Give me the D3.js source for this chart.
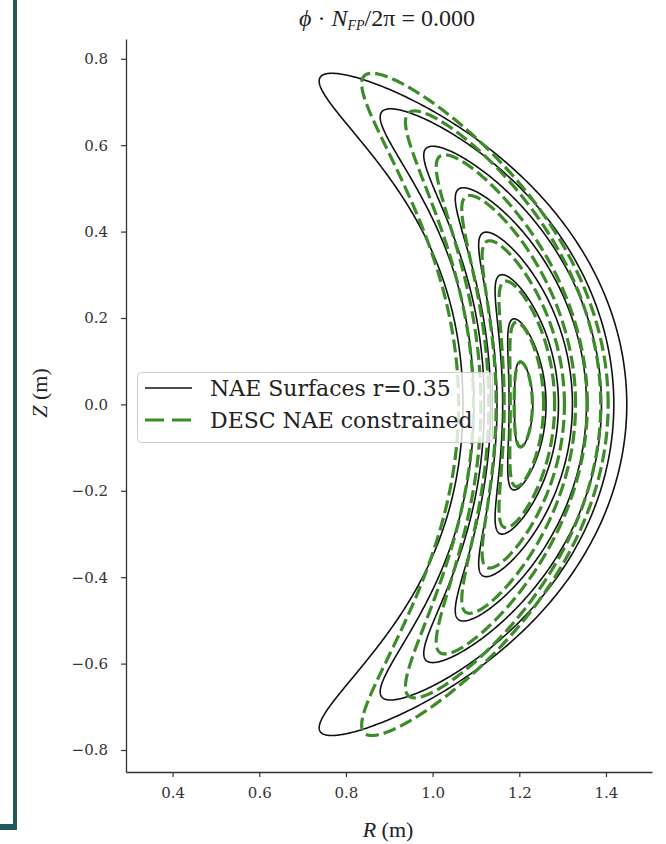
<!DOCTYPE html>
<html>
<head>
<meta charset="utf-8">
<script src="https://cdn.jsdelivr.net/npm/d3@7"></script>
<style>
  body { margin: 0; background: #ffffff; }
  svg { display: block; }
</style>
</head>
<body>
<svg id="chart" width="666" height="844"></svg>
<script>
// Poloidal cross-section at phi = 0: nested flux surfaces, outermost first.
// Each surface is stored as its Fourier modes:
//   R(theta) = R0 + R1 cos(theta) + R2 cos(2 theta) + R3 cos(3 theta) + R4 cos(4 theta)
//   Z(theta) = Z1 sin(theta) + Z2 sin(2 theta)
const surfaceRho = [1, 0.875, 0.75, 0.625, 0.5, 0.375, 0.25, 0.125];

// Near-axis expansion surfaces (r = 0.35 at the boundary)
const naeR0 = [1.016, 1.080, 1.126, 1.156, 1.178, 1.192, 1.203, 1.206];
const naeR1 = [0.169, 0.148, 0.1268, 0.1056, 0.0845, 0.0634, 0.0423, 0.0211];
const naeR2 = [0.258, 0.1855, 0.1331, 0.0908, 0.0585, 0.0343, 0.0161, 0.0040];
const naeR3 = [0.020, 0.0134, 0.0084, 0.0049, 0.0025, 0.0010, 0.0003, 0.0000];
const naeR4 = [-0.015, -0.0088, -0.0047, -0.0023, -0.0009, -0.0003, 0.0000, 0.0000];
const naeZ1 = [0.760, 0.680, 0.595, 0.500, 0.398, 0.300, 0.198, 0.100];
const naeZ2 = [0.050, 0.0383, 0.0281, 0.0195, 0.0125, 0.0070, 0.0031, 0.0008];

// DESC equilibrium surfaces with the NAE constraint
const descR0 = [1.0372, 1.093, 1.126, 1.154, 1.176, 1.195, 1.205, 1.206];
const descR1 = [0.1525, 0.1334, 0.1144, 0.0953, 0.0763, 0.0572, 0.0381, 0.0210];
const descR2 = [0.1953, 0.1481, 0.1082, 0.0756, 0.0493, 0.0283, 0.0126, 0.0031];
const descR3 = [0.020, 0.0134, 0.0084, 0.0049, 0.0025, 0.0010, 0.0003, 0.0000];
const descR4 = [0, 0, 0, 0, 0, 0, 0, 0];
const descZ1 = [0.760, 0.675, 0.575, 0.482, 0.378, 0.285, 0.190, 0.098];
const descZ2 = [0.050, 0.0383, 0.0280, 0.0195, 0.0125, 0.0070, 0.0031, 0.0008];

const xTicks = [0.4, 0.6, 0.8, 1.0, 1.2, 1.4];
const yTicks = [0.8, 0.6, 0.4, 0.2, 0.0, -0.2, -0.4, -0.6, -0.8];

const titleValue = "0.000";
const legendLabels = ["NAE Surfaces r=0.35", "DESC NAE constrained"];

const COLOR_NAE = "#111111";
const COLOR_DESC = "#3c8c2a";
const SERIF = "'DejaVu Serif', 'Liberation Serif', serif";
const MATH = "'Liberation Serif', serif";

const svg = d3.select("#chart");

// Frame accent on the left and bottom edge
svg.append("rect").attr("x", 13).attr("y", 0).attr("width", 4).attr("height", 830).attr("fill", "#1f5b5b");
svg.append("rect").attr("x", 0).attr("y", 824).attr("width", 17).attr("height", 6).attr("fill", "#1f5b5b");

// Axes box (equal aspect)
const plot = { left: 126, right: 652, top: 39, bottom: 772 };
const x = d3.scaleLinear().domain([0.2925, 1.5062]).range([plot.left, plot.right]);
const y = d3.scaleLinear().domain([-0.8509, 0.8458]).range([plot.bottom, plot.top]);

const fmt = d => d3.format(".1f")(d).replace("-", "\u2212");

// X axis
const xAxis = d3.axisBottom(x).tickValues(xTicks).tickFormat(fmt).tickSize(5).tickSizeOuter(0);
const gx = svg.append("g").attr("transform", `translate(0,${plot.bottom})`).call(xAxis);
// Y axis
const yAxis = d3.axisLeft(y).tickValues(yTicks).tickFormat(fmt).tickSize(5).tickSizeOuter(0);
const gy = svg.append("g").attr("transform", `translate(${plot.left},0)`).call(yAxis);

[gx, gy].forEach(g => {
  g.select(".domain").attr("stroke", "#333").attr("stroke-width", 1.3);
  g.selectAll(".tick line").attr("stroke", "#333").attr("stroke-width", 1.2);
  g.selectAll(".tick text").attr("fill", "#333").style("font-family", SERIF).style("font-size", "15px");
});
gx.selectAll(".tick text").attr("y", 12).attr("dy", "0.95em");
gy.selectAll(".tick text").attr("x", -18);

// Surface curves
const thetas = d3.range(0, 720).map(i => i * Math.PI / 360);
const line = d3.line().x(p => x(p[0])).y(p => y(p[1])).curve(d3.curveLinearClosed);

function surfacePoints(r0, r1, r2, r3, r4, z1, z2) {
  return thetas.map(t => [
    r0 + r1 * Math.cos(t) + r2 * Math.cos(2 * t) + r3 * Math.cos(3 * t) + r4 * Math.cos(4 * t),
    z1 * Math.sin(t) + z2 * Math.sin(2 * t)
  ]);
}

const gCurves = svg.append("g");
surfaceRho.forEach((rho, i) => {
  gCurves.append("path")
    .attr("d", line(surfacePoints(naeR0[i], naeR1[i], naeR2[i], naeR3[i], naeR4[i], naeZ1[i], naeZ2[i])))
    .attr("fill", "none").attr("stroke", COLOR_NAE).attr("stroke-width", 1.6);
});
surfaceRho.forEach((rho, i) => {
  gCurves.append("path")
    .attr("d", line(surfacePoints(descR0[i], descR1[i], descR2[i], descR3[i], descR4[i], descZ1[i], descZ2[i])))
    .attr("fill", "none").attr("stroke", COLOR_DESC).attr("stroke-width", 3.2)
    .attr("stroke-dasharray", "13,5");
});

// Title
const title = svg.append("text").attr("x", 387).attr("y", 26).attr("text-anchor", "middle")
  .style("font-family", MATH).style("font-size", "24px").attr("fill", "#222");
title.append("tspan").style("font-style", "italic").text("\u03D5");
title.append("tspan").text(" \u00B7 ");
title.append("tspan").style("font-style", "italic").text("N");
title.append("tspan").style("font-style", "italic").style("font-size", "14px").attr("dy", 4).text("FP");
title.append("tspan").attr("dy", -4).text("/2\u03C0 = " + titleValue);

// Axis labels
const xl = svg.append("text").attr("x", 388).attr("y", 837).attr("text-anchor", "middle")
  .style("font-family", MATH).style("font-size", "22px").attr("fill", "#222");
xl.append("tspan").style("font-style", "italic").text("R");
xl.append("tspan").text(" (m)");

const yl = svg.append("text").attr("transform", "translate(47,393) rotate(-90)").attr("text-anchor", "middle")
  .style("font-family", MATH).style("font-size", "22px").attr("fill", "#222");
yl.append("tspan").style("font-style", "italic").text("Z");
yl.append("tspan").text(" (m)");

// Legend
const lg = svg.append("g");
lg.append("rect").attr("x", 137.5).attr("y", 372.5).attr("width", 355).attr("height", 70).attr("rx", 4)
  .attr("fill", "#ffffff").attr("fill-opacity", 0.8).attr("stroke", "#cccccc").attr("stroke-width", 1);
const rows = [
  { label: legendLabels[0], color: COLOR_NAE, width: 1.6, dash: null, y: 388 },
  { label: legendLabels[1], color: COLOR_DESC, width: 3.2, dash: "19,8", y: 420 }
];
rows.forEach(r => {
  lg.append("line").attr("x1", 145).attr("x2", 192).attr("y1", r.y).attr("y2", r.y)
    .attr("stroke", r.color).attr("stroke-width", r.width).attr("stroke-dasharray", r.dash);
  lg.append("text").attr("x", 210).attr("y", r.y + 8).text(r.label)
    .style("font-family", SERIF).style("font-size", "22px").attr("fill", "#222");
});
</script>
</body>
</html>
